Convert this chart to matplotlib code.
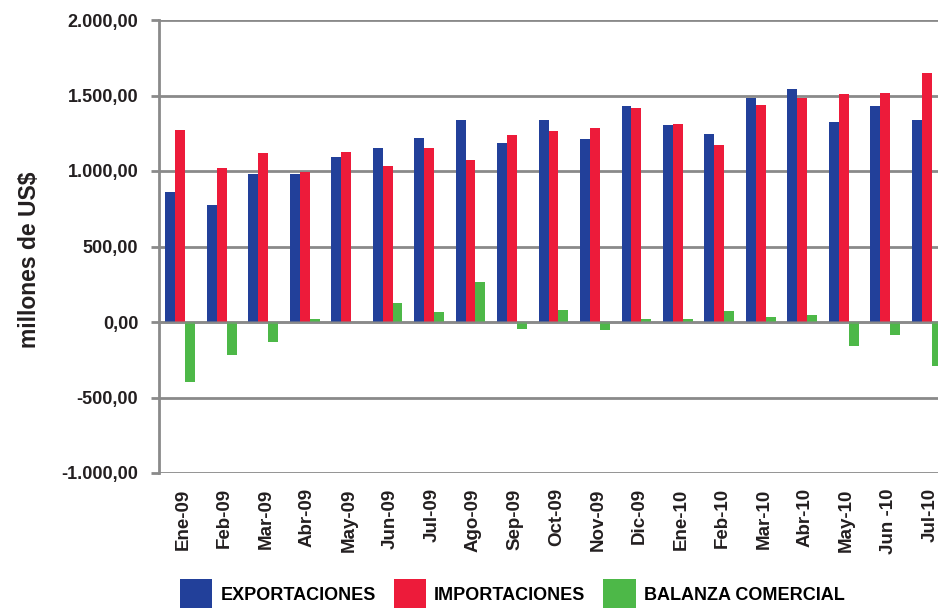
import matplotlib
matplotlib.use("Agg")
import matplotlib.pyplot as plt
import numpy as np

plt.rcParams['font.family'] = ['Liberation Sans', 'DejaVu Sans']

meses = ["Ene-09", "Feb-09", "Mar-09", "Abr-09", "May-09", "Jun-09", "Jul-09",
         "Ago-09", "Sep-09", "Oct-09", "Nov-09", "Dic-09", "Ene-10", "Feb-10",
         "Mar-10", "Abr-10", "May-10", "Jun -10", "Jul-10"]

exportaciones = [862, 776, 981, 981, 1093, 1153, 1220, 1338, 1186, 1338, 1212,
                 1431, 1305, 1245, 1483, 1543, 1325, 1431, 1338]
importaciones = [1272, 1020, 1120, 994, 1126, 1034, 1153, 1074, 1239, 1265, 1285,
                 1417, 1311, 1172, 1437, 1483, 1510, 1517, 1649]
balanza = [-400, -221, -135, 22, 0, 128, 68, 267, -49, 81, -51,
           22, 22, 75, 35, 48, -157, -84, -289]

y_ticks = [-1000, -500, 0, 500, 1000, 1500, 2000]
y_labels = ["-1.000,00", "-500,00", "0,00", "500,00", "1.000,00", "1.500,00", "2.000,00"]

c_exp = "#22409a"
c_imp = "#ed1b3a"
c_bal = "#4db848"
gris = "#8a8a8a"
texto = "#231f20"

fig = plt.figure(figsize=(9.38, 6.08), dpi=100)
ax = fig.add_axes([159/938, 1 - 473/608, 1 - 159/938, (473 - 20)/608])

x = np.arange(len(meses))
w = 0.24
b1 = ax.bar(x - w, exportaciones, w, color=c_exp, label="EXPORTACIONES", zorder=2)
b2 = ax.bar(x, importaciones, w, color=c_imp, label="IMPORTACIONES", zorder=2)
b3 = ax.bar(x + w, balanza, w, color=c_bal, label="BALANZA COMERCIAL", zorder=2)

ax.set_ylim(-1000, 2000)
ax.set_xlim(-0.51, 18.27)
ax.set_yticks(y_ticks)
ax.set_yticklabels(y_labels, fontsize=13, fontweight="bold", color=texto)
ax.set_xticks(x + 0.07)
ax.set_xticklabels(meses, rotation=90, fontsize=13.5, fontweight="bold", color=texto)

ax.set_axisbelow(True)
ax.grid(axis="y", color=gris, linewidth=2, zorder=0)
ax.axhline(0, color=gris, linewidth=2, alpha=0.6, zorder=3)

for s in ["top", "right", "bottom"]:
    ax.spines[s].set_visible(False)
ax.spines["left"].set_color(gris)
ax.spines["left"].set_linewidth(2)
ax.tick_params(axis="y", length=6, width=2, color=gris, pad=9)
ax.tick_params(axis="x", length=0, pad=11)

ax.set_ylabel("millones de US$", fontsize=16.5, fontweight="bold", color=texto)
ax.yaxis.set_label_coords(-0.152, 0.47)

fig.legend(handles=[b1, b2, b3], loc="lower left", bbox_to_anchor=(180/938, -0.002),
           ncol=3, frameon=False, prop={"weight": "bold", "size": 13},
           handlelength=1.78, handleheight=2.2, handletextpad=0.45, columnspacing=1.0,
           borderpad=0, borderaxespad=0)

fig.savefig("out.png", dpi=100)
